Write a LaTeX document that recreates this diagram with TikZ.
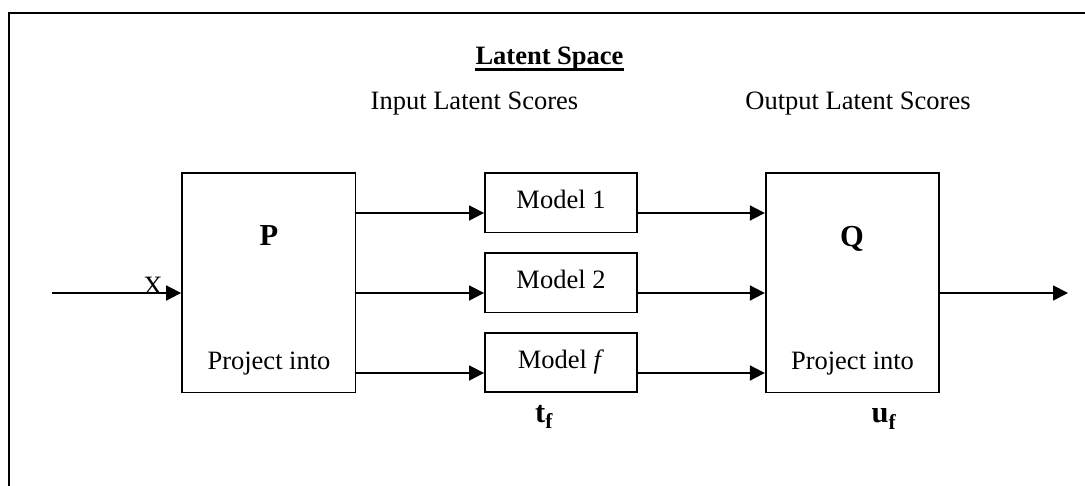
\documentclass[tikz,border=0pt]{standalone}
\usepackage{fontspec}
\setmainfont{Liberation Serif}
\usetikzlibrary{arrows.meta}
\begin{document}
\begin{tikzpicture}[x=1pt,y=-1pt,
  txt/.style={inner sep=0pt,font=\fontsize{26.5}{30}\selectfont},
  big/.style={inner sep=0pt,font=\fontsize{30.5}{34}\selectfont\bfseries},
  bigbox/.style={draw,line width=1.8pt,minimum width=173.5pt,minimum height=219.5pt,inner sep=0pt},
  modelbox/.style={draw,line width=1.8pt,minimum width=151.7pt,minimum height=59.5pt,inner sep=0pt},
  flow/.style={line width=1.8pt,-{Triangle[length=15pt,width=15pt]}}]
\useasboundingbox (0,0) rectangle (1085,486);
% outer frame (open at right and bottom)
\draw[line width=1.9pt] (9,486) -- (9,13) -- (1085,13);

% headings
\node[txt,anchor=base] (title) at (549.5,65) {\bfseries Latent Space};
\draw[line width=2.6pt] ([yshift=-4.5pt]title.base west) -- ([yshift=-4.5pt]title.base east);
\node[txt,anchor=base] (inlat) at (474.5,110) {Input Latent Scores};
\node[txt,anchor=base] (outlat) at (858,110) {Output Latent Scores};

% projection blocks
\node[bigbox] (P) at (268.75,282.75) {};
\node[bigbox] (Q) at (852.5,282.75) {};
\node[big,anchor=base] (Plab) at (269,245.5) {P};
\node[big,anchor=base] (Qlab) at (852,246.5) {Q};
\node[txt,anchor=base] (Pproj) at (269,370) {Project into};
\node[txt,anchor=base] (Qproj) at (852.5,370) {Project into};

% model blocks
\node[modelbox] (m1) at (560.8,202.75) {};
\node[modelbox] (m2) at (560.8,282.75) {};
\node[modelbox] (mf) at (560.8,362.5) {};
\node[txt,anchor=base] (m1t) at (561,209) {Model 1};
\node[txt,anchor=base] (m2t) at (561,288.5) {Model 2};
\node[txt,anchor=base] (mft) at (561,368.5) {Model \textit{f}};

% score labels
\node[big,anchor=base west] (tf) at (535,422.5) {t\textsubscript{f}};
\node[big,anchor=base west] (uf) at (871.5,423) {u\textsubscript{f}};

% rows of the signal paths
\coordinate (r1) at (0,213);
\coordinate (r2) at (0,293);
\coordinate (r3) at (0,373);
\coordinate (xin) at (52,293);
\coordinate (yout) at (1068,293);

% input and output
\draw[flow] (xin) -- (P.west |- r2);
\node[txt,anchor=base] (X) at (153,295) {X};
\draw[flow] (Q.east |- r2) -- (yout);

% P to models
\draw[flow] (P.east |- r1) -- (m1.west |- r1);
\draw[flow] (P.east |- r2) -- (m2.west |- r2);
\draw[flow] (P.east |- r3) -- (mf.west |- r3);
% models to Q
\draw[flow] (m1.east |- r1) -- (Q.west |- r1);
\draw[flow] (m2.east |- r2) -- (Q.west |- r2);
\draw[flow] (mf.east |- r3) -- (Q.west |- r3);
\end{tikzpicture}
\end{document}
